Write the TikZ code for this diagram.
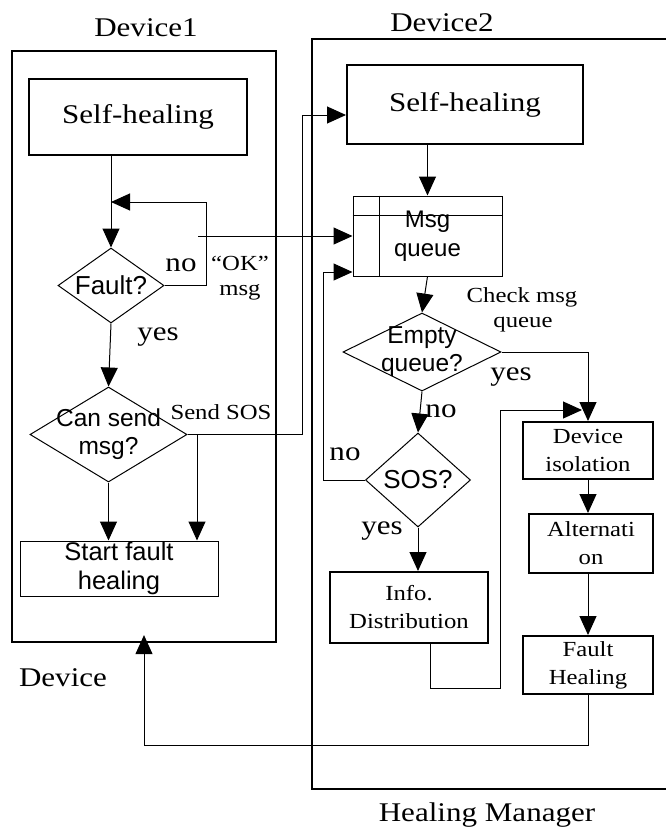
\documentclass[tikz,border=0pt]{standalone}
\usepackage{fontspec}
\setmainfont{Liberation Serif}
\newfontfamily\serifw[FakeStretch=1.15]{Liberation Serif}
\newfontfamily\sansw{Liberation Sans}
\usetikzlibrary{shapes.geometric,arrows.meta}

\tikzset{
  frame/.style={draw, line width=2.2pt},
  bigbox/.style={draw, line width=2pt, inner sep=0pt,
    font=\serifw\fontsize{27}{30}\selectfont},
  procbox/.style={draw, line width=2pt, inner sep=0pt, align=center,
    font=\serifw\fontsize{21.5}{28}\selectfont},
  thinbox/.style={draw, line width=1pt, inner sep=0pt, align=center,
    font=\sansw\fontsize{24}{29}\selectfont},
  decision/.style={draw, diamond, line width=1pt, inner sep=0pt},
  dtext/.style={align=center, inner sep=0pt,
    font=\sansw\fontsize{24.5}{28}\selectfont},
  flow/.style={line width=1pt, -{Triangle[length=19pt,width=17pt]}},
  plain/.style={line width=1pt},
  bigtag/.style={inner sep=0pt, font=\serifw\fontsize{27}{30}\selectfont},
  smalltag/.style={inner sep=0pt, align=center,
    font=\serifw\fontsize{21.5}{28}\selectfont}
}

\begin{document}
\begin{tikzpicture}[x=1pt,y=-1pt]
\useasboundingbox (0,0) rectangle (666,831);

% containers
\node[frame, inner sep=0pt, minimum width=264pt, minimum height=591pt]
  (dev1) at (144,346.5) {};
\draw[frame] (668,39) -- (312,39) -- (312,789) -- (668,789);

% container titles
\node[bigtag] (t1) at (146,28) {Device1};
\node[bigtag] (t2) at (442,23) {Device2};
\node[bigtag] (t3) at (63,678) {Device};
\node[bigtag] (t4) at (487,815) {Healing Manager};

% device side
\node[bigbox, minimum width=218pt, minimum height=76pt] (sh1) at (138,117) {Self-healing};
\node[decision, minimum width=106pt, minimum height=75pt] (fault) at (111,285.5) {};
\node[dtext, font=\sansw\fontsize{26}{28}\selectfont] (faultT) at (fault) {Fault?};
\node[decision, minimum width=157pt, minimum height=95pt] (cansend) at (108.5,434.5) {};
\node[dtext] (cansendT) at (cansend) {Can send\\msg?};
\node[thinbox, font=\sansw\fontsize{25.5}{29}\selectfont, minimum width=198pt, minimum height=55pt] (start) at (119,568.5) {Start fault\\healing};

% manager side
\node[bigbox, minimum width=236pt, minimum height=79pt] (sh2) at (465,104.5) {Self-healing};
\node[thinbox, minimum width=149pt, minimum height=80pt] (msgq) at (427.5,236) {Msg\\queue};
\draw[plain] ([xshift=27pt]msgq.north west) -- ([xshift=27pt]msgq.south west);
\draw[plain] ([yshift=-20pt]msgq.north west) -- ([yshift=-20pt]msgq.north east);
\node[decision, minimum width=158pt, minimum height=78pt] (empty) at (422,352) {};
\node[dtext] (emptyT) at (empty) {Empty\\queue?};
\node[decision, minimum width=105pt, minimum height=94pt] (sos) at (418,480) {};
\node[dtext, font=\sansw\fontsize{26}{28}\selectfont] (sosT) at (sos) {SOS?};
\node[procbox, minimum width=158pt, minimum height=71pt] (info) at (409,607.5) {Info.\\Distribution};
\node[procbox, minimum width=130pt, minimum height=57pt] (iso) at (588,450.5) {Device\\isolation};
\node[procbox, minimum width=124pt, minimum height=59pt] (alt) at (591,543.5) {Alternati\\on};
\node[procbox, minimum width=130pt, minimum height=58pt] (fh) at (588,665) {Fault\\Healing};

% bend points
\coordinate (loopTop) at (206,202);
\coordinate (okStart) at (198,236);
\coordinate (sosUp) at (302,115);
\coordinate (sosDrop) at (197,434.5);
\coordinate (noUp) at (323,272);
\coordinate (infoLow) at (430,688);
\coordinate (infoUp) at (500,410);
\coordinate (back) at (588,745);

% device flow
\draw[flow] (fault.north |- sh1.south) -- (fault.north);
\draw[flow] (fault.east) -| (loopTop) -- (loopTop -| fault.north);
\draw[flow] (fault.south) -- (cansend.north);
\draw[flow] (cansend.south) -- (cansend.south |- start.north);
\draw[flow] (cansend.east) -| (sosUp) -- (sosUp -| sh2.west);
\draw[flow] (sosDrop) -- (sosDrop |- start.north);
\draw[flow] (okStart) -- (msgq.west);

% manager flow
\draw[flow] (msgq.north |- sh2.south) -- (msgq.north);
\draw[flow] (msgq.south) -- (empty.north);
\draw[flow] (empty.south) -- (sos.north);
\draw[flow] (empty.east) -| (iso.north);
\draw[flow] (sos.west) -| (noUp) -- (noUp -| msgq.west);
\draw[flow] (sos.south) -- (sos.south |- info.north);
\draw[flow, shorten >=6pt] (infoLow |- info.south) -- (infoLow) -| (infoUp) -- (infoUp -| iso.north);
\draw[flow] (iso.south) -- (alt.north -| iso.south);
\draw[flow] (alt.south -| fh.north) -- (fh.north);
\draw[flow, shorten >=-8pt] (fh.south) -- (back) -| (dev1.south);

% branch labels
\node[bigtag] (noA) at (181,265) {no};
\node[smalltag] (okA) at (240,263) {“OK”};
\node[smalltag] (okB) at (240,292) {msg};
\node[bigtag] (yesA) at (158,337) {yes};
\node[smalltag] (sendA) at (221,412) {Send SOS};
\node[smalltag] (chkA) at (522,297) {Check msg};
\node[smalltag] (chkB) at (523,325) {queue};
\node[bigtag] (yesB) at (511,377) {yes};
\node[bigtag] (noB) at (441,411) {no};
\node[bigtag] (noC) at (345,454) {no};
\node[bigtag] (yesC) at (382,531) {yes};
\end{tikzpicture}
\end{document}
